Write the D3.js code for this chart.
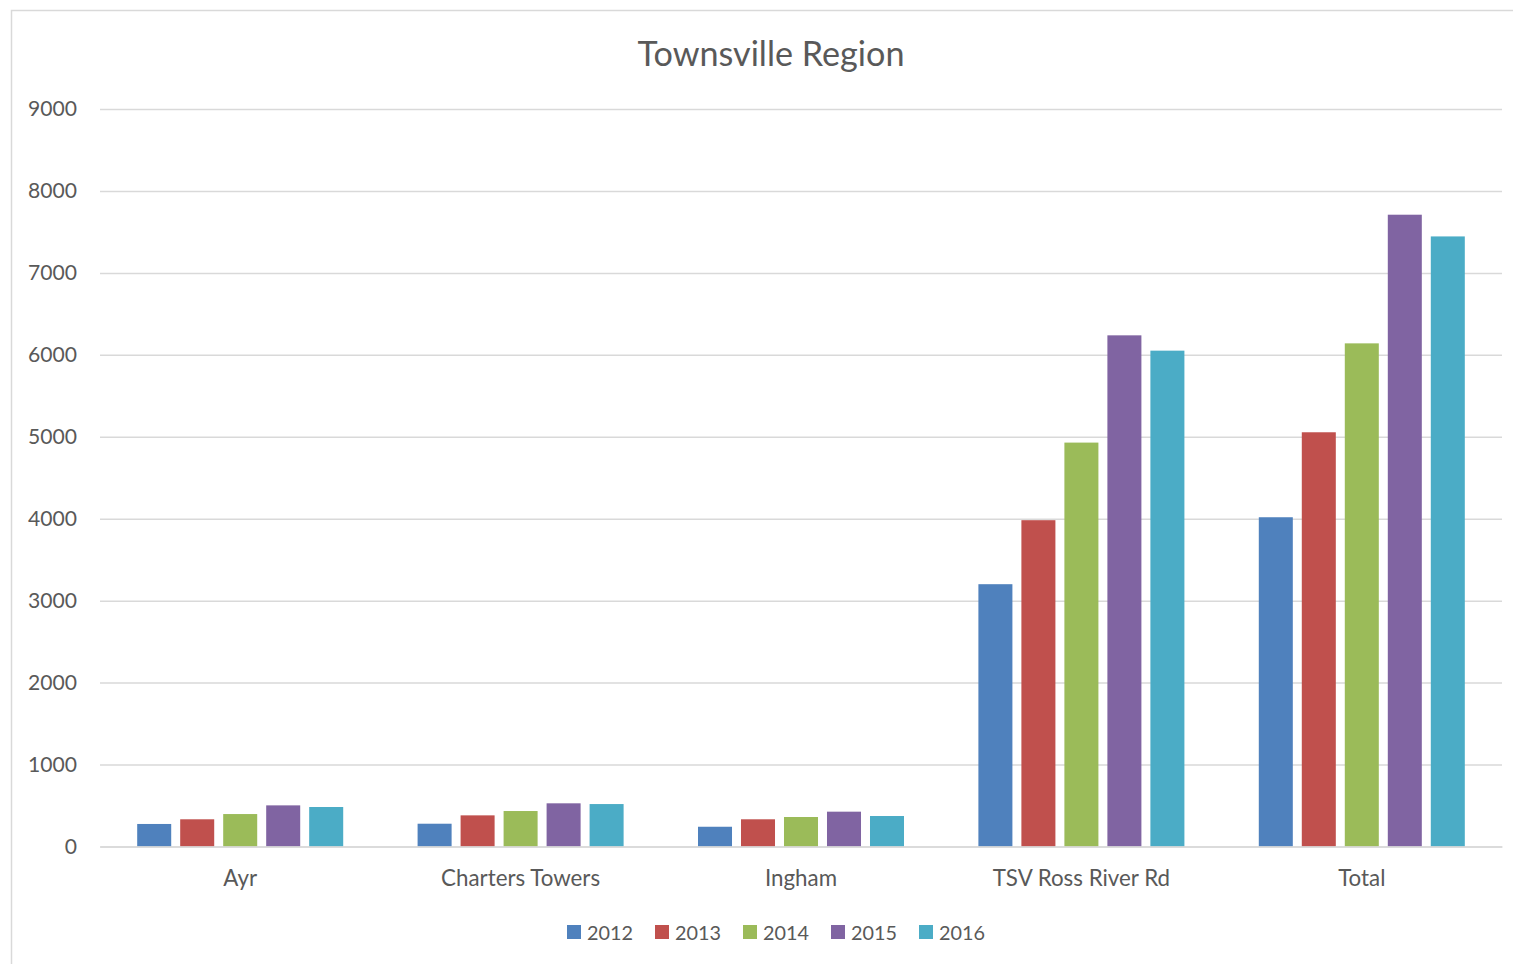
<!DOCTYPE html>
<html>
<head>
<meta charset="utf-8">
<script src="https://cdn.jsdelivr.net/npm/d3@7"></script>
<style>
  html, body { margin: 0; padding: 0; background: #fff; }
  svg { display: block; }
  text { font-family: Lato, "Open Sans", sans-serif; fill: #595959; }
</style>
</head>
<body>
<svg id="chart" width="1513" height="964"></svg>
<script>
const categories = ["Ayr", "Charters Towers", "Ingham", "TSV Ross River Rd", "Total"];
const years = ["2012", "2013", "2014", "2015", "2016"];
const values2012 = [275, 278, 241, 3201, 4018];
const values2013 = [332, 380, 332, 3982, 5055];
const values2014 = [396, 433, 360, 4929, 6140];
const values2015 = [502, 527, 425, 6238, 7710];
const values2016 = [482, 518, 372, 6051, 7445];
const yTicks = [0, 1000, 2000, 3000, 4000, 5000, 6000, 7000, 8000, 9000];
const colors = ["#4f81bd", "#c0504d", "#9bbb59", "#8064a2", "#4bacc6"];
const title = "Townsville Region";

const seriesValues = [values2012, values2013, values2014, values2015, values2016];
const svg = d3.select("#chart");

// outer border
svg.append("rect").attr("x", 11.5).attr("y", 10.5).attr("width", 1520).attr("height", 970)
  .attr("fill", "none").attr("stroke", "#d9d9d9").attr("stroke-width", 1.5);

const plot = { left: 100, right: 1502, top: 109, bottom: 846.5 };

const x0 = d3.scaleBand().domain(categories).range([plot.left, plot.right]).padding(0);
const x1 = d3.scaleBand().domain(years).range([0, x0.bandwidth()])
  .paddingInner(0.209).paddingOuter(0.865);
const y = d3.scaleLinear().domain([0, 9000]).range([plot.bottom, plot.top]);

function fit(sel, target) {
  const node = sel.node();
  const fs = parseFloat(sel.attr("font-size"));
  const w = node.getComputedTextLength();
  if (w > 0) sel.attr("font-size", (fs * target / w).toFixed(2));
}

// gridlines via axis
const yAxis = d3.axisLeft(y).tickValues(yTicks).tickSize(-(plot.right - plot.left)).tickPadding(23)
  .tickFormat(d3.format("d"));
const gy = svg.append("g").attr("transform", `translate(${plot.left},0)`).call(yAxis);
gy.select(".domain").remove();
gy.selectAll(".tick line").attr("stroke", "#d9d9d9").attr("stroke-width", 1.5);
gy.selectAll(".tick text").attr("font-size", 21).attr("fill", "#595959")
  .style("font-family", "Lato, 'Open Sans', sans-serif");
gy.selectAll(".tick").filter(d => d === 9000).select("text").each(function() { fit(d3.select(this), 49); });
const tickFs = gy.selectAll(".tick").filter(d => d === 9000).select("text").attr("font-size");
gy.selectAll(".tick text").attr("font-size", tickFs);

// bars
const groups = svg.append("g").selectAll("g").data(categories).join("g")
  .attr("transform", d => `translate(${x0(d)},0)`);
groups.selectAll("rect")
  .data((c, ci) => years.map((yr, si) => ({ yr, si, v: seriesValues[si][ci] })))
  .join("rect")
  .attr("x", d => x1(d.yr))
  .attr("width", x1.bandwidth())
  .attr("y", d => y(d.v))
  .attr("height", d => y(0) - y(d.v))
  .attr("fill", d => colors[d.si]);

// x axis
const xAxis = d3.axisBottom(x0).tickSize(0).tickPadding(24);
const gx = svg.append("g").attr("transform", `translate(0,${plot.bottom})`).call(xAxis);
gx.select(".domain").attr("stroke", "#d9d9d9").attr("stroke-width", 1.5);
gx.selectAll(".tick text").attr("font-size", 21).attr("fill", "#595959")
  .style("font-family", "Lato, 'Open Sans', sans-serif");
gx.selectAll(".tick").filter(d => d === "Charters Towers").select("text").each(function() { fit(d3.select(this), 159); });
const catFs = gx.selectAll(".tick").filter(d => d === "Charters Towers").select("text").attr("font-size");
gx.selectAll(".tick text").attr("font-size", catFs);

// title
const t = svg.append("text").attr("x", 771).attr("y", 66).attr("text-anchor", "middle")
  .attr("font-size", 32).text(title);
fit(t, 267);

// legend
const legend = svg.append("g");
const lx = d3.scalePoint().domain(years).range([567, 567 + 88 * 4]);
const items = legend.selectAll("g").data(years).join("g")
  .attr("transform", d => `translate(${lx(d)},0)`);
items.append("rect").attr("x", 0).attr("y", 925).attr("width", 14).attr("height", 14)
  .attr("fill", (d, i) => colors[i]);
items.append("text").attr("x", 20).attr("y", 939.5).attr("font-size", 21).text(d => d);
items.filter((d, i) => i === 0).select("text").each(function() { fit(d3.select(this), 46); });
const lfs = items.filter((d, i) => i === 0).select("text").attr("font-size");
items.selectAll("text").attr("font-size", lfs);
</script>
</body>
</html>
